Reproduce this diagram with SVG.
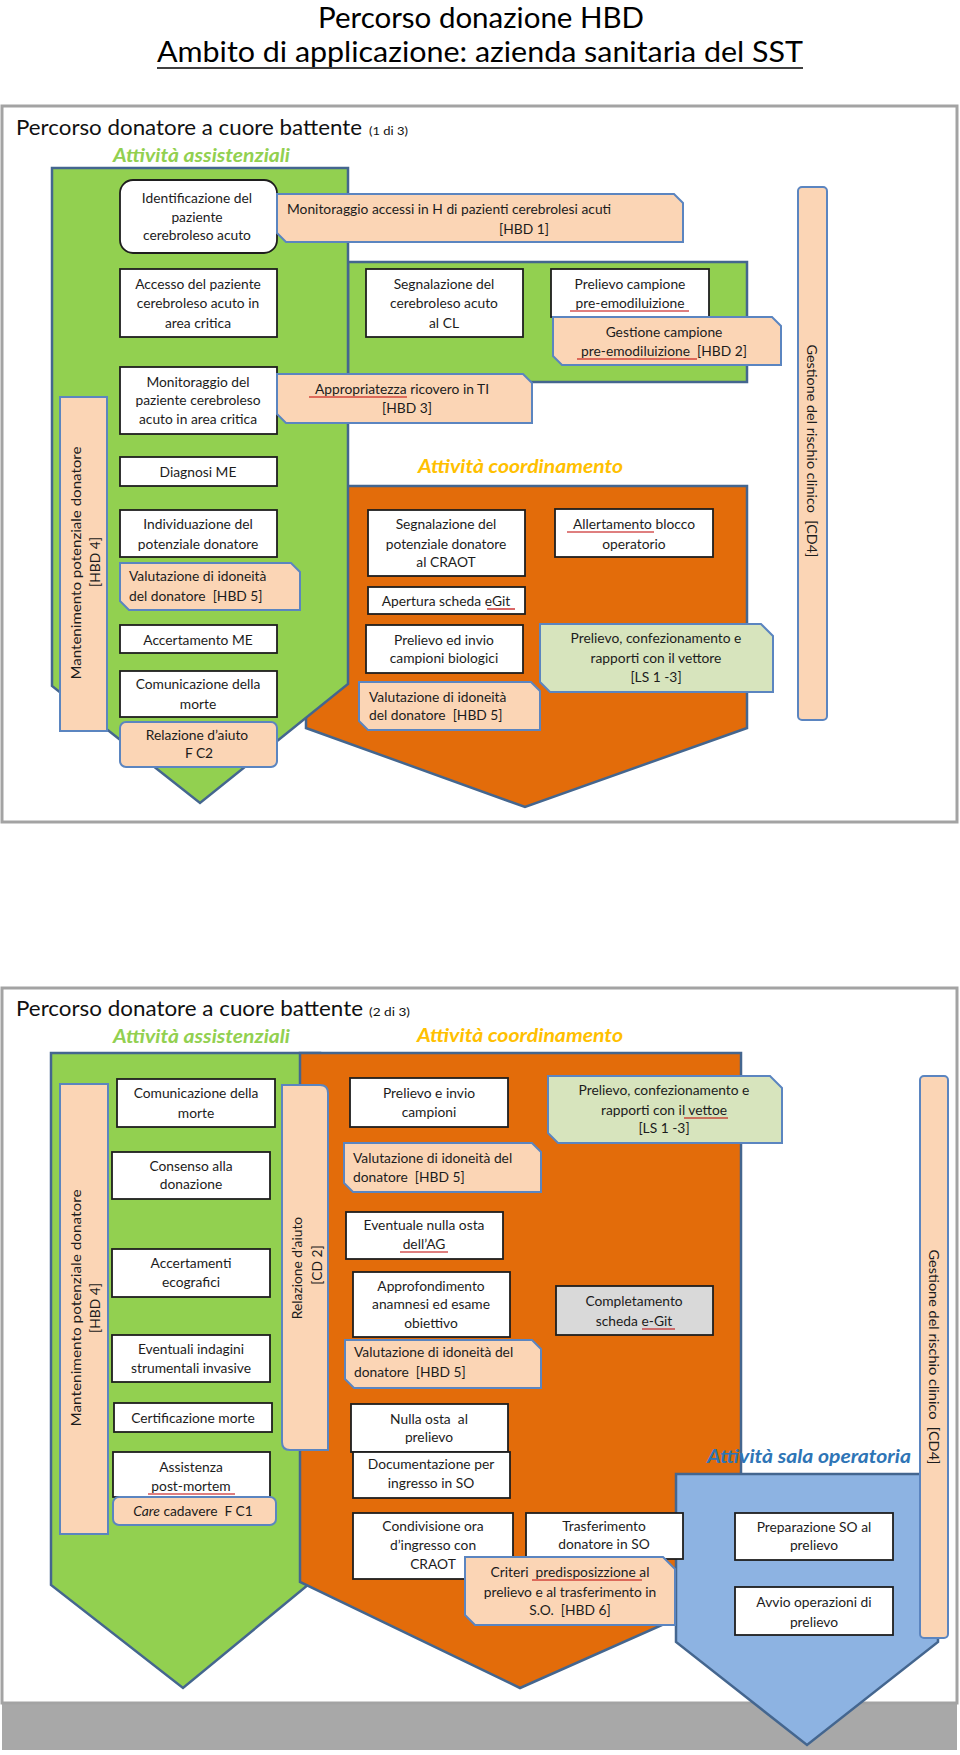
<svg xmlns="http://www.w3.org/2000/svg" width="960" height="1755" viewBox="0 0 960 1755">
<style>
.frame{fill:#fff;stroke:#a3a3a3;stroke-width:3}
.big{stroke:#44668f;stroke-width:2.5;stroke-linejoin:miter}
.green{fill:#92d050}
.orange{fill:#e36c0a}
.blue{fill:#8db3e2}
.box{fill:#fff;stroke:#1e1e1e;stroke-width:1.8}
.gray{fill:#d9d9d9;stroke:#1e1e1e;stroke-width:1.8}
.call{fill:#fbd5b5;stroke:#5b85c0;stroke-width:2}
.gcall{fill:#d7e4bd;stroke:#5b85c0;stroke-width:2}
.t{font-family:Lato,"Open Sans",sans-serif;font-size:13.8px;fill:#1c1c1c;text-anchor:middle}
.l{text-anchor:start}
.h1{font-family:Lato,"Open Sans",sans-serif;font-size:28px;fill:#000;text-anchor:middle}
.h2{font-family:Lato,"Open Sans",sans-serif;font-size:22px;fill:#111}
.sm{font-family:Lato,"Open Sans",sans-serif;font-size:11px;fill:#111}
.sec{font-family:Lato,"Open Sans",sans-serif;font-size:19px;font-style:italic;font-weight:bold}
.ul{stroke:#c00000;stroke-width:1.2}
</style>

<g id="title">
<text class="h1" x="481" y="28" textLength="326" lengthAdjust="spacingAndGlyphs">Percorso donazione HBD</text>
<text class="h1" x="480" y="62" textLength="646" lengthAdjust="spacingAndGlyphs">Ambito di applicazione: azienda sanitaria del SST</text>
<line x1="157" y1="68" x2="803" y2="68" stroke="#000" stroke-width="1.6"/>
</g>

<!-- ================= PANEL 1 ================= -->
<g id="panel1">
<rect class="frame" x="2" y="106" width="955" height="716"/>
<text class="h2" x="16" y="135" textLength="346" lengthAdjust="spacingAndGlyphs">Percorso donatore a cuore battente</text>
<text class="sm" x="369" y="135" textLength="39" lengthAdjust="spacingAndGlyphs">(1 di 3)</text>
<text class="sec" x="113" y="162" fill="#92d050" textLength="177" lengthAdjust="spacingAndGlyphs">Attività assistenziali</text>
<text class="sec" x="418" y="473" fill="#ffc000" textLength="205" lengthAdjust="spacingAndGlyphs">Attività coordinamento</text>

<polygon id="orange1" class="big orange" points="306,486 747,486 747,728 525,807 306,728"/>
<rect id="green1b" class="big green" x="348" y="262" width="399" height="120"/>
<polygon id="green1" class="big green" points="52,168 348,168 348,684 200,803 52,686"/>
</g>

<g id="connectors"></g>

<g id="mant1">
<rect x="60" y="397" width="47" height="334" class="call"/>
<text class="t" transform="translate(76,563) rotate(-90)" y="5" textLength="233" lengthAdjust="spacingAndGlyphs" font-size="14">Mantenimento potenziale donatore</text>
<text class="t" transform="translate(95,562) rotate(-90)" y="5" font-size="14">[HBD 4]</text>
</g>

<g id="n_ident">
<rect class="box" x="120" y="180" width="157" height="73" rx="13"/>
<text class="t" x="197" y="203">Identificazione del</text>
<text class="t" x="197" y="222">paziente</text>
<text class="t" x="197" y="240">cerebroleso acuto</text>
</g>

<g id="c_hbd1">
<path class="call" d="M277,194 L674,194 L683,203 L683,242 L286,242 L277,233 Z"/>
<text class="t l" x="287" y="214">Monitoraggio accessi in H di pazienti cerebrolesi acuti</text>
<text class="t" x="524" y="234">[HBD 1]</text>
</g>

<g id="n_accesso">
<rect class="box" x="120" y="269" width="157" height="68"/>
<text class="t" x="198" y="289">Accesso del paziente</text>
<text class="t" x="198" y="308">cerebroleso acuto in</text>
<text class="t" x="198" y="328">area critica</text>
</g>

<g id="n_segn_cl">
<rect class="box" x="366" y="269" width="157" height="68"/>
<text class="t" x="444" y="289">Segnalazione del</text>
<text class="t" x="444" y="308">cerebroleso acuto</text>
<text class="t" x="444" y="328">al CL</text>
</g>

<g id="n_prel_pre">
<rect class="box" x="551" y="269" width="158" height="48"/>
<text class="t" x="630" y="289">Prelievo campione</text>
<text class="t" x="630" y="308">pre-emodiluizione</text>
<line class="ul" x1="570" y1="311" x2="689" y2="311"/>
</g>

<g id="c_hbd2">
<path class="call" d="M553,317 L772,317 L781,326 L781,365 L562,365 L553,356 Z"/>
<text class="t" x="664" y="337">Gestione campione</text>
<text class="t" x="664" y="356" xml:space="preserve">pre-emodiluizione  [HBD 2]</text>
<line class="ul" x1="577" y1="359" x2="697" y2="359"/>
</g>

<g id="n_monit">
<rect class="box" x="120" y="367" width="157" height="67"/>
<text class="t" x="198" y="387">Monitoraggio del</text>
<text class="t" x="198" y="405">paziente cerebroleso</text>
<text class="t" x="198" y="424">acuto in area critica</text>
</g>

<g id="c_hbd3">
<path class="call" d="M277,374 L523,374 L532,383 L532,423 L286,423 L277,414 Z"/>
<text class="t" x="402" y="394">Appropriatezza ricovero in TI</text>
<text class="t" x="407" y="413">[HBD 3]</text>
<line class="ul" x1="309" y1="397" x2="407" y2="397"/>
</g>

<g id="n_diag">
<rect class="box" x="120" y="457" width="157" height="29"/>
<text class="t" x="198" y="477">Diagnosi ME</text>
</g>

<g id="n_indiv">
<rect class="box" x="120" y="510" width="157" height="47"/>
<text class="t" x="198" y="529">Individuazione del</text>
<text class="t" x="198" y="549">potenziale donatore</text>
</g>

<g id="c_hbd5a">
<path class="call" d="M120,563 L291,563 L300,572 L300,610 L129,610 L120,601 Z"/>
<text class="t l" x="129" y="581">Valutazione di idoneità</text>
<text class="t l" x="129" y="601" xml:space="preserve">del donatore  [HBD 5]</text>
</g>

<g id="n_accert">
<rect class="box" x="120" y="625" width="157" height="28"/>
<text class="t" x="198" y="645">Accertamento ME</text>
</g>

<g id="n_comun">
<rect class="box" x="120" y="671" width="157" height="46"/>
<text class="t" x="198" y="689">Comunicazione della</text>
<text class="t" x="198" y="709">morte</text>
</g>

<g id="c_fc2">
<rect class="call" x="120" y="722" width="157" height="45" rx="6"/>
<text class="t" x="197" y="740">Relazione d’aiuto</text>
<text class="t" x="199" y="758">F C2</text>
</g>

<g id="n_segn_craot">
<rect class="box" x="368" y="510" width="157" height="66"/>
<text class="t" x="446" y="529">Segnalazione del</text>
<text class="t" x="446" y="549">potenziale donatore</text>
<text class="t" x="446" y="567">al CRAOT</text>
</g>

<g id="n_egit">
<rect class="box" x="368" y="587" width="157" height="27"/>
<text class="t" x="446" y="606">Apertura scheda eGit</text>
<line class="ul" x1="487" y1="609" x2="515" y2="609"/>
</g>

<g id="n_prel_bio">
<rect class="box" x="366" y="625" width="157" height="48"/>
<text class="t" x="444" y="645">Prelievo ed invio</text>
<text class="t" x="444" y="663">campioni biologici</text>
</g>

<g id="c_hbd5b">
<path class="call" d="M359,682 L531,682 L540,691 L540,730 L368,730 L359,721 Z"/>
<text class="t l" x="369" y="702">Valutazione di idoneità</text>
<text class="t l" x="369" y="720" xml:space="preserve">del donatore  [HBD 5]</text>
</g>

<g id="n_allert">
<rect class="box" x="555" y="509" width="158" height="48"/>
<text class="t" x="634" y="529">Allertamento blocco</text>
<text class="t" x="634" y="549">operatorio</text>
<line class="ul" x1="567" y1="532" x2="654" y2="532"/>
</g>

<g id="c_ls1">
<path class="gcall" d="M540,624 L761,624 L773,636 L773,692 L550,692 L540,682 Z"/>
<text class="t" x="656" y="643">Prelievo, confezionamento e</text>
<text class="t" x="656" y="663">rapporti con il vettore</text>
<text class="t" x="656" y="682">[LS 1 -3]</text>
</g>

<g id="gest1">
<rect class="call" x="798" y="187" width="29" height="533" rx="4"/>
<text class="t" transform="translate(812,451) rotate(90)" y="5" textLength="213" lengthAdjust="spacingAndGlyphs" xml:space="preserve">Gestione del rischio clinico  [CD4]</text>
</g>

<!-- ================= PANEL 2 ================= -->
<g id="panel2">
<rect x="2" y="1703" width="955" height="47" fill="#a8a8a8"/>
<rect class="frame" x="2" y="988" width="955" height="715"/>
<text class="h2" x="16" y="1016" textLength="347" lengthAdjust="spacingAndGlyphs">Percorso donatore a cuore battente</text>
<text class="sm" x="369" y="1016" textLength="41" lengthAdjust="spacingAndGlyphs">(2 di 3)</text>
<text class="sec" x="113" y="1043" fill="#92d050" textLength="177" lengthAdjust="spacingAndGlyphs">Attività assistenziali</text>
<text class="sec" x="417" y="1042" fill="#ffc000" textLength="206" lengthAdjust="spacingAndGlyphs">Attività coordinamento</text>
<polygon id="green2" class="big green" points="51,1053 320,1053 320,1575 183,1688 51,1585"/>
<polygon id="orange2" class="big orange" points="300,1053 741,1053 741,1590 520,1688 300,1582"/>
<polygon id="blue2" class="big blue" points="676,1474 938,1474 938,1642 807,1745 676,1642"/>
<text class="sec" x="707" y="1463" fill="#2e75b6" textLength="204" lengthAdjust="spacingAndGlyphs">Attività sala operatoria</text>
</g>

<g id="mant2">
<rect x="60" y="1084" width="48" height="450" class="call"/>
<text class="t" transform="translate(76,1308) rotate(-90)" y="5" textLength="237" lengthAdjust="spacingAndGlyphs" font-size="14">Mantenimento potenziale donatore</text>
<text class="t" transform="translate(95,1308) rotate(-90)" y="5" font-size="14">[HBD 4]</text>
</g>

<g id="rel_cd2">
<path class="call" d="M282,1085 L320,1085 Q328,1085 328,1093 L328,1450 L290,1450 Q282,1450 282,1442 Z"/>
<text class="t" transform="translate(297,1268) rotate(-90)" y="5">Relazione d’aiuto</text>
<text class="t" transform="translate(317,1265) rotate(-90)" y="5">[CD 2]</text>
</g>

<g id="n_com2">
<rect class="box" x="117" y="1079" width="158" height="48"/>
<text class="t" x="196" y="1098">Comunicazione della</text>
<text class="t" x="196" y="1118">morte</text>
</g>

<g id="n_consenso">
<rect class="box" x="112" y="1152" width="158" height="47"/>
<text class="t" x="191" y="1171">Consenso alla</text>
<text class="t" x="191" y="1189">donazione</text>
</g>

<g id="n_ecogr">
<rect class="box" x="112" y="1249" width="158" height="48"/>
<text class="t" x="191" y="1268">Accertamenti</text>
<text class="t" x="191" y="1287">ecografici</text>
</g>

<g id="n_indag">
<rect class="box" x="112" y="1335" width="158" height="47"/>
<text class="t" x="191" y="1354">Eventuali indagini</text>
<text class="t" x="191" y="1373">strumentali invasive</text>
</g>

<g id="n_cert">
<rect class="box" x="114" y="1403" width="158" height="29"/>
<text class="t" x="193" y="1423">Certificazione morte</text>
</g>

<g id="n_assist">
<rect class="box" x="113" y="1452" width="157" height="45"/>
<text class="t" x="191" y="1472">Assistenza</text>
<text class="t" x="191" y="1491">post-mortem</text>
<line class="ul" x1="148" y1="1494" x2="235" y2="1494"/>
</g>

<g id="c_fc1">
<rect class="call" x="113" y="1497" width="163" height="28" rx="6"/>
<text class="t" x="193" y="1516" xml:space="preserve"><tspan font-style="italic">Care</tspan> cadavere  F C1</text>
</g>

<g id="n_prel_inv">
<rect class="box" x="350" y="1078" width="158" height="49"/>
<text class="t" x="429" y="1098">Prelievo e invio</text>
<text class="t" x="429" y="1117">campioni</text>
</g>

<g id="c_hbd5c">
<path class="call" d="M344,1143 L532,1143 L541,1152 L541,1192 L353,1192 L344,1183 Z"/>
<text class="t l" x="353" y="1163">Valutazione di idoneità del</text>
<text class="t l" x="353" y="1182" xml:space="preserve">donatore  [HBD 5]</text>
</g>

<g id="n_nullaAG">
<rect class="box" x="346" y="1212" width="157" height="47"/>
<text class="t" x="424" y="1230">Eventuale nulla osta</text>
<text class="t" x="424" y="1249">dell’AG</text>
<line class="ul" x1="400" y1="1252" x2="448" y2="1252"/>
</g>

<g id="n_approf">
<rect class="box" x="353" y="1272" width="157" height="65"/>
<text class="t" x="431" y="1291">Approfondimento</text>
<text class="t" x="431" y="1309">anamnesi ed esame</text>
<text class="t" x="431" y="1328">obiettivo</text>
</g>

<g id="c_hbd5d">
<path class="call" d="M345,1340 L532,1340 L541,1349 L541,1388 L354,1388 L345,1379 Z"/>
<text class="t l" x="354" y="1357">Valutazione di idoneità del</text>
<text class="t l" x="354" y="1377" xml:space="preserve">donatore  [HBD 5]</text>
</g>

<g id="n_nullaprel">
<rect class="box" x="351" y="1404" width="157" height="48"/>
<text class="t" x="429" y="1424" xml:space="preserve">Nulla osta  al</text>
<text class="t" x="429" y="1442">prelievo</text>
</g>

<g id="n_doc">
<rect class="box" x="353" y="1452" width="157" height="46"/>
<text class="t" x="431" y="1469">Documentazione per</text>
<text class="t" x="431" y="1488">ingresso in SO</text>
</g>

<g id="n_condiv">
<rect class="box" x="353" y="1513" width="160" height="66"/>
<text class="t" x="433" y="1531">Condivisione ora</text>
<text class="t" x="433" y="1550">d’ingresso con</text>
<text class="t" x="433" y="1569">CRAOT</text>
</g>

<g id="n_trasf">
<rect class="box" x="526" y="1513" width="157" height="46"/>
<text class="t" x="604" y="1531">Trasferimento</text>
<text class="t" x="604" y="1549">donatore in SO</text>
</g>

<g id="c_hbd6">
<path class="call" d="M465,1557 L663,1557 L675,1569 L675,1625 L475,1625 L465,1615 Z"/>
<text class="t" x="570" y="1577" xml:space="preserve">Criteri  predisposizzione al</text>
<text class="t" x="570" y="1597">prelievo e al trasferimento in</text>
<text class="t" x="570" y="1615" xml:space="preserve">S.O.  [HBD 6]</text>
<line class="ul" x1="532" y1="1580" x2="642" y2="1580"/>
</g>

<g id="c_ls2">
<path class="gcall" d="M548,1076 L770,1076 L782,1088 L782,1143 L558,1143 L548,1133 Z"/>
<text class="t" x="664" y="1095">Prelievo, confezionamento e</text>
<text class="t" x="664" y="1115">rapporti con il vettoe</text>
<text class="t" x="664" y="1133">[LS 1 -3]</text>
<line class="ul" x1="684" y1="1118" x2="728" y2="1118"/>
</g>

<g id="n_complet">
<rect class="gray" x="556" y="1286" width="157" height="49"/>
<text class="t" x="634" y="1306">Completamento</text>
<text class="t" x="634" y="1326">scheda e-Git</text>
<line class="ul" x1="642" y1="1329" x2="675" y2="1329"/>
</g>

<g id="gest2">
<rect class="call" x="920" y="1076" width="28" height="562" rx="4"/>
<text class="t" transform="translate(934,1357) rotate(90)" y="5" textLength="215" lengthAdjust="spacingAndGlyphs" xml:space="preserve">Gestione del rischio clinico  [CD4]</text>
</g>

<g id="n_prep">
<rect class="box" x="735" y="1513" width="158" height="47"/>
<text class="t" x="814" y="1532">Preparazione SO al</text>
<text class="t" x="814" y="1550">prelievo</text>
</g>

<g id="n_avvio">
<rect class="box" x="735" y="1587" width="158" height="48"/>
<text class="t" x="814" y="1607">Avvio operazioni di</text>
<text class="t" x="814" y="1627">prelievo</text>
</g>
</svg>
